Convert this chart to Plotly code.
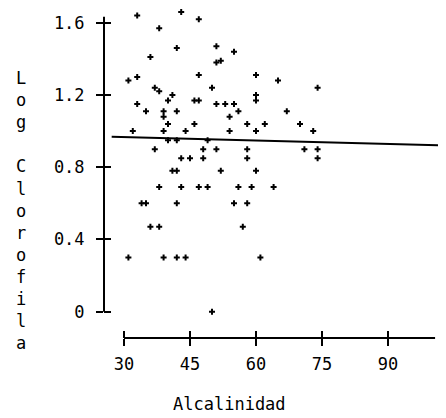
import plotly.graph_objects as go

# ---- data ----
alcalinidad = [33, 43, 47, 38, 42, 51, 36, 51, 52, 55,
               31, 33, 47, 60, 65, 74, 37, 38, 50, 41,
               60, 60, 40, 46, 47, 33, 51, 53, 55, 35,
               39, 39, 42, 56, 67, 54, 40, 46, 58, 62,
               70, 32, 39, 44, 54, 60, 73, 40, 42, 49,
               37, 48, 51, 58, 71, 74, 43, 45, 48, 58,
               74, 41, 42, 52, 60, 38, 43, 47, 49, 56,
               59, 64, 34, 35, 42, 55, 58, 36, 38, 57,
               31, 39, 42, 44, 61, 50]
log_clorofila = [1.64, 1.66, 1.62, 1.57, 1.46, 1.47, 1.41, 1.38, 1.39, 1.44,
                 1.28, 1.30, 1.31, 1.31, 1.28, 1.24, 1.24, 1.22, 1.24, 1.20,
                 1.20, 1.17, 1.17, 1.17, 1.17, 1.15, 1.15, 1.15, 1.15, 1.11,
                 1.11, 1.08, 1.11, 1.11, 1.11, 1.08, 1.04, 1.04, 1.04, 1.04,
                 1.04, 1.00, 1.00, 1.00, 1.00, 1.00, 1.00, 0.95, 0.95, 0.95,
                 0.90, 0.90, 0.90, 0.90, 0.90, 0.90, 0.85, 0.85, 0.85, 0.85,
                 0.85, 0.78, 0.78, 0.78, 0.78, 0.69, 0.69, 0.69, 0.69, 0.69,
                 0.69, 0.69, 0.60, 0.60, 0.60, 0.60, 0.60, 0.47, 0.47, 0.47,
                 0.30, 0.30, 0.30, 0.30, 0.30, 0.00]

fit_x = [27.2, 103.2]
fit_y = [0.969, 0.921]

x_ticks = [30, 45, 60, 75, 90]
y_ticks = [0, 0.4, 0.8, 1.2, 1.6]
y_tick_text = ["0", "0.4", "0.8", "1.2", "1.6"]

x_title = "Alcalinidad"
y_title = "Log Clorofila"

# ---- layout constants ----
# The page body keeps its default 8px margin, so the figure is 8px smaller
# and the plot area is moved 8px up/left to land where the reference has it.
X_RANGE = [25.4545, 103.1818]
Y_RANGE = [-0.1456, 1.6816]
Y_LINE_TOP = 1.633
X_LINE_RIGHT = 100.7
FONT = "DejaVu Sans Mono"

fig = go.Figure()
fig.add_trace(go.Scatter(x=fit_x, y=fit_y, mode="lines",
                         line=dict(color="black", width=2),
                         showlegend=False, hoverinfo="skip"))
fig.add_trace(go.Scatter(x=alcalinidad, y=log_clorofila, mode="markers",
                         marker=dict(symbol="cross", size=5, color="black",
                                     line=dict(width=0)),
                         cliponaxis=False, showlegend=False))
# empty trace to activate overlay axes (inner half of the crossing ticks)
fig.add_trace(go.Scatter(x=[None], y=[None], xaxis="x2", yaxis="y2",
                         showlegend=False, hoverinfo="skip"))

common = dict(showgrid=False, zeroline=False, showline=False,
              tickcolor="black", tickwidth=2, ticklen=7)

fig.update_layout(
    width=438, height=410,
    margin=dict(l=96, r=0, t=0, b=80),
    paper_bgcolor="white", plot_bgcolor="white",
    xaxis=dict(range=X_RANGE, tickmode="array", tickvals=x_ticks,
               ticks="outside", ticklabelstandoff=4,
               tickfont=dict(family=FONT, size=17, color="black"), **common),
    yaxis=dict(range=Y_RANGE, tickmode="array", tickvals=y_ticks,
               ticktext=y_tick_text, ticks="outside", ticklabelstandoff=8,
               tickfont=dict(family=FONT, size=17, color="black"), **common),
    xaxis2=dict(range=X_RANGE, overlaying="x", anchor="y2", side="bottom",
                tickmode="array", tickvals=x_ticks, ticks="inside",
                showticklabels=False, **common),
    yaxis2=dict(range=Y_RANGE, overlaying="y", anchor="x2", side="left",
                tickmode="array", tickvals=y_ticks, ticks="inside",
                showticklabels=False, **common),
    shapes=[
        dict(type="line", xref="paper", yref="y", x0=0, x1=0, y0=0,
             y1=Y_LINE_TOP, line=dict(color="black", width=2)),
        dict(type="line", xref="x", yref="paper", x0=x_ticks[0],
             x1=X_LINE_RIGHT, y0=0, y1=0, line=dict(color="black", width=2)),
    ],
    annotations=[
        dict(text=x_title, xref="paper", yref="paper", x=0.367, y=-0.2,
             xanchor="center", yanchor="middle", showarrow=False,
             font=dict(family=FONT, size=17, color="black")),
        dict(text="<br>".join(c if c != " " else "\u00a0" for c in y_title),
             xref="paper", yref="paper", x=-0.244, y=0.386,
             xanchor="center", yanchor="middle", showarrow=False,
             font=dict(family=FONT, size=17, color="black")),
    ],
)

fig.write_html("out.html")
